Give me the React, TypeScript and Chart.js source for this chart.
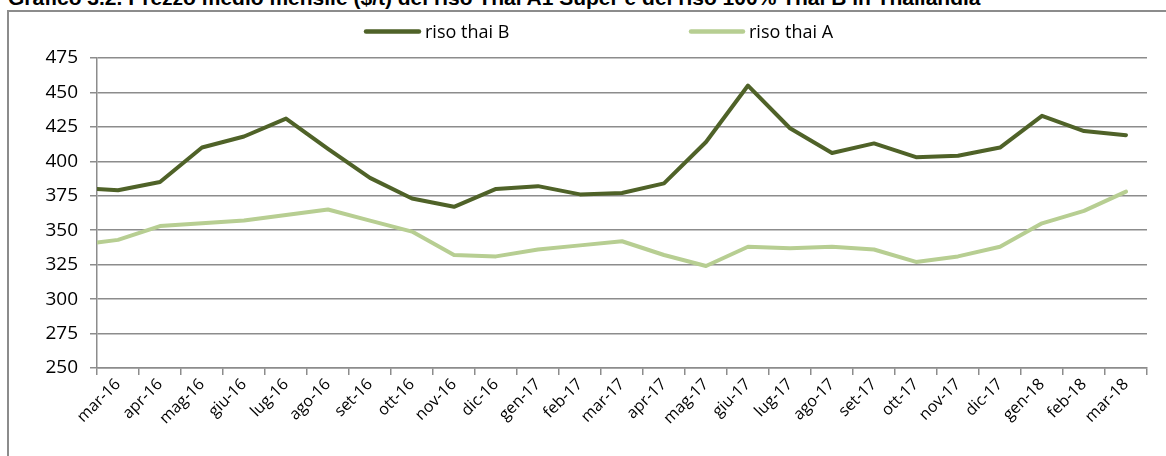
import React, { useEffect, useRef } from "react";
import { Chart, registerables } from "chart.js";

Chart.register(...registerables);

const titleText =
  "Grafico 3.2. Prezzo medio mensile ($/t) del riso Thai A1 Super e del riso 100% Thai B in Thailandia";

const categories = [
  "mar-16", "apr-16", "mag-16", "giu-16", "lug-16", "ago-16", "set-16", "ott-16", "nov-16", "dic-16",
  "gen-17", "feb-17", "mar-17", "apr-17", "mag-17", "giu-17", "lug-17", "ago-17", "set-17", "ott-17",
  "nov-17", "dic-17", "gen-18", "feb-18", "mar-18",
];

const seriesNames = ["riso thai B", "riso thai A"];

// value at the left edge of the plot (before the first month)
const thaiBStart = 380;
const thaiAStart = 341;

const thaiB = [
  379, 385, 410, 418, 431, 409, 388, 373, 367, 380,
  382, 376, 377, 384, 414, 455, 424, 406, 413, 403,
  404, 410, 433, 422, 419,
];
const thaiA = [
  343, 353, 355, 357, 361, 365, 357, 349, 332, 331,
  336, 339, 342, 332, 324, 338, 337, 338, 336, 327,
  331, 338, 355, 364, 378,
];

const yMin = 250;
const yMax = 475;
const yStep = 25;

const DARK = "#4f6228";
const LIGHT = "#b7ce92";
const GRID = "#8c8c8c";
const FONT = "'Open Sans', 'Noto Sans', sans-serif";

const toPoints = (start: number, vals: number[]) => [
  { x: -0.5, y: start },
  ...vals.map((v, i) => ({ x: i, y: v })),
];

const legendPlugin = {
  id: "customLegend",
  afterDraw(chart: any) {
    const ctx = chart.ctx;
    const spots = [
      { x1: 366, x2: 419 },
      { x1: 691, x2: 743 },
    ];
    const y = 31.5;
    ctx.save();
    chart.data.datasets.forEach((ds: any, i: number) => {
      const s = spots[i];
      ctx.beginPath();
      ctx.strokeStyle = ds.borderColor;
      ctx.lineWidth = 4.5;
      ctx.lineCap = "round";
      ctx.moveTo(s.x1, y);
      ctx.lineTo(s.x2, y);
      ctx.stroke();
      ctx.fillStyle = "#000";
      ctx.font = `18px ${FONT}`;
      ctx.textBaseline = "alphabetic";
      ctx.textAlign = "left";
      ctx.fillText(ds.label, s.x2 + 6, 38);
    });
    ctx.restore();
  },
};

export default function App() {
  const ref = useRef<HTMLCanvasElement | null>(null);

  useEffect(() => {
    if (!ref.current) return;
    const chart = new Chart(ref.current, {
      type: "line",
      data: {
        labels: categories,
        datasets: [
          {
            label: seriesNames[0],
            data: toPoints(thaiBStart, thaiB),
            borderColor: DARK,
            backgroundColor: DARK,
            borderWidth: 4,
            pointRadius: 0,
            tension: 0,
            borderJoinStyle: "round",
            borderCapStyle: "round",
            xAxisID: "x",
            yAxisID: "y",
          },
          {
            label: seriesNames[1],
            data: toPoints(thaiAStart, thaiA),
            borderColor: LIGHT,
            backgroundColor: LIGHT,
            borderWidth: 4,
            pointRadius: 0,
            tension: 0,
            borderJoinStyle: "round",
            borderCapStyle: "round",
            xAxisID: "x",
            yAxisID: "y",
          },
        ],
      } as any,
      options: {
        responsive: false,
        maintainAspectRatio: false,
        animation: false,
        layout: { padding: { top: 58, right: 19, left: 0, bottom: 0 } },
        plugins: {
          legend: { display: false },
          tooltip: { enabled: false },
        },
        scales: {
          x: {
            type: "linear",
            display: false,
            min: -0.5,
            max: categories.length - 0.5,
          },
          xc: {
            type: "category",
            position: "bottom",
            labels: categories,
            offset: true,
            grid: {
              offset: true,
              drawOnChartArea: false,
              tickLength: 7,
              color: GRID,
              lineWidth: 1.5,
            },
            border: { color: GRID, width: 1.5 },
            ticks: {
              autoSkip: false,
              maxRotation: 45,
              minRotation: 45,
              padding: 0,
              color: "#000",
              font: { family: FONT, size: 16 },
            },
            afterFit: (s: any) => {
              s.height = 88;
            },
          },
          y: {
            type: "linear",
            min: yMin,
            max: yMax,
            ticks: {
              stepSize: yStep,
              padding: 12,
              color: "#000",
              font: { family: FONT, size: 19 },
            },
            grid: { color: GRID, lineWidth: 1.5, tickLength: 7 },
            border: { color: GRID, width: 1.5 },
            afterFit: (s: any) => {
              s.width = 97;
            },
          },
        } as any,
      },
      plugins: [legendPlugin],
    });
    return () => chart.destroy();
  }, []);

  return (
    <div
      style={{
        position: "absolute",
        left: 0,
        top: 0,
        width: 1166,
        height: 456,
        overflow: "hidden",
        background: "#fff",
      }}
    >
      <div
        style={{
          position: "absolute",
          left: 8,
          top: -13,
          whiteSpace: "nowrap",
          fontFamily: "'Liberation Sans', Arial, sans-serif",
          fontWeight: "bold",
          fontSize: "21px",
          lineHeight: "22px",
          color: "#000",
        }}
      >
        {titleText}
      </div>
      <div
        style={{
          position: "absolute",
          left: 7,
          top: 10,
          width: 1300,
          height: 600,
          border: `2px solid ${GRID}`,
          boxSizing: "border-box",
        }}
      />
      <canvas
        ref={ref}
        width={1166}
        height={456}
        style={{ position: "absolute", left: 0, top: 0, width: 1166, height: 456 }}
      />
    </div>
  );
}
